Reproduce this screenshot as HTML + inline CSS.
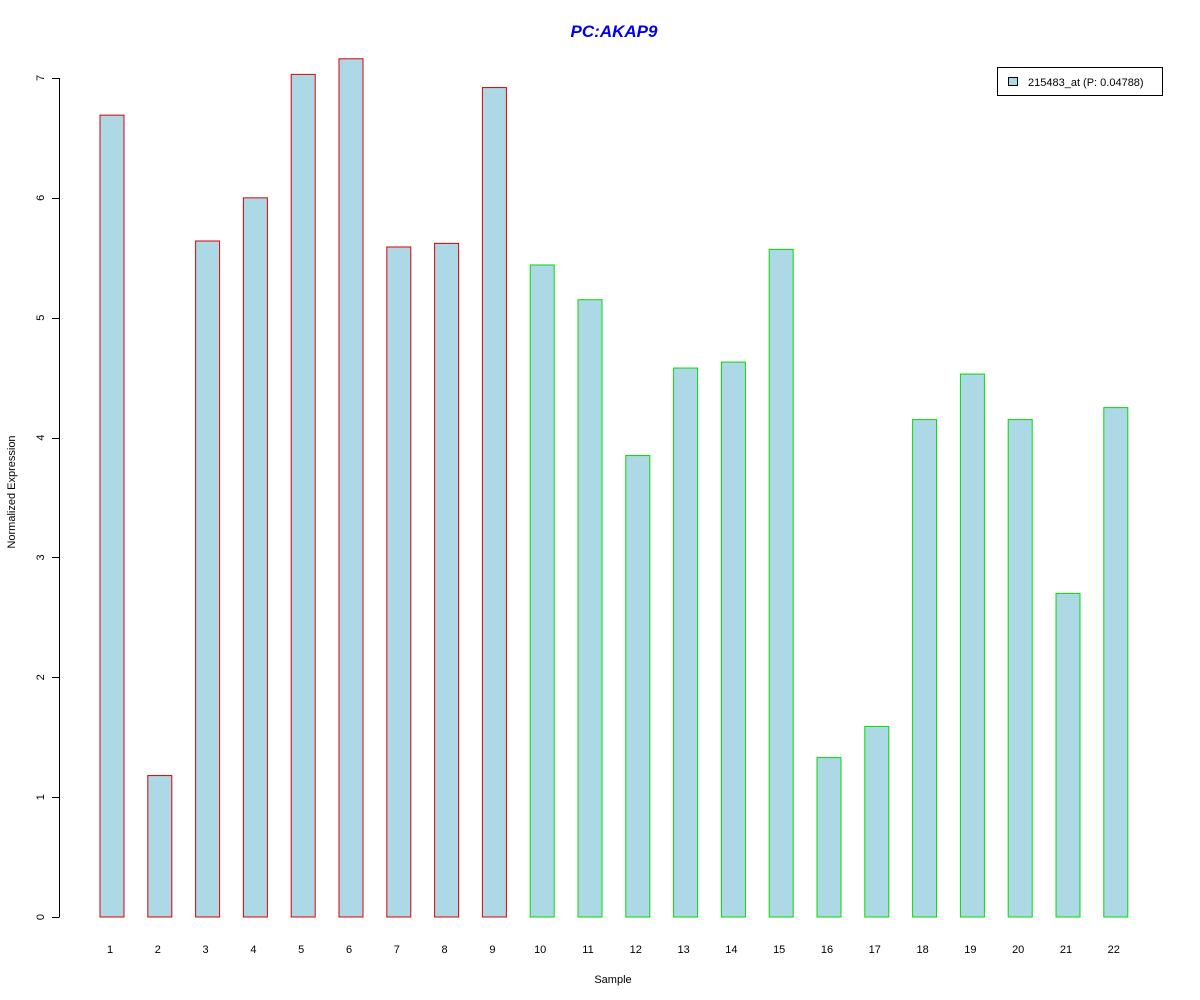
<!DOCTYPE html>
<html><head><meta charset="utf-8"><style>body{margin:0;background:#fff}svg{display:block;font-family:"Liberation Sans",Arial,sans-serif}</style></head>
<body>
<svg id="c" width="1200" height="1000">
<text x="614" y="37" text-anchor="middle" font-size="17" font-weight="bold" font-style="italic" fill="#0000ee">PC:AKAP9</text>
<text x="613" y="983" text-anchor="middle" font-size="11">Sample</text>
<text transform="translate(15,492) rotate(-90)" text-anchor="middle" font-size="11">Normalized Expression</text>
<g>
<rect x="997.5" y="67.5" width="165" height="28" fill="#fff" stroke="#000"/>
<rect x="1008.5" y="77.5" width="9" height="8" fill="#add8e6" stroke="#000"/>
<text x="1028" y="86" font-size="11">215483_at (P: 0.04788)</text>
</g>
<g id="bars"></g><g id="axis"></g>
</svg>
<script>
const categories=["1","2","3","4","5","6","7","8","9","10","11","12","13","14","15","16","17","18","19","20","21","22"];
const values=[6.69,1.18,5.64,6.0,7.03,7.16,5.59,5.62,6.92,5.44,5.15,3.85,4.58,4.63,5.57,1.33,1.59,4.15,4.53,4.15,2.70,4.25];
const groups=["a","a","a","a","a","a","a","a","a","b","b","b","b","b","b","b","b","b","b","b","b","b"];
const yTicks=[0,1,2,3,4,5,6,7];
const NS="http://www.w3.org/2000/svg";
const y=v=>917-v*119.86;
const x=i=>112+i*47.8;
const bars=document.getElementById('bars'),ax=document.getElementById('axis');
function mk(t,a,p){const e=document.createElementNS(NS,t);for(const k in a)e.setAttribute(k,a[k]);p.appendChild(e);return e;}
values.forEach((v,i)=>{
 const r=mk('rect',{x:x(i)-12,y:y(v),width:24,height:y(0)-y(v),fill:'#add8e6',stroke:groups[i]=="a"?'#dd0000':'#00dd00','stroke-width':1},bars);
 
 
 const t=mk('text',{x:x(i)-2,y:953,'text-anchor':'middle','font-size':11},ax);t.textContent=categories[i];
 
 
});
const l=mk('line',{x1:59.5,x2:59.5,y1:y(yTicks[0]),y2:y(yTicks[yTicks.length-1]),stroke:'#000'},ax);


yTicks.forEach(v=>{
 const tk=mk('line',{x1:52,x2:59.5,y1:Math.round(y(v))+.5,y2:Math.round(y(v))+.5,stroke:'#000'},ax);
 
 
 const t=mk('text',{transform:`translate(44,${y(v)}) rotate(-90)`,'text-anchor':'middle','font-size':11},ax);t.textContent=v;
 
 
});
</script>
</body></html>
